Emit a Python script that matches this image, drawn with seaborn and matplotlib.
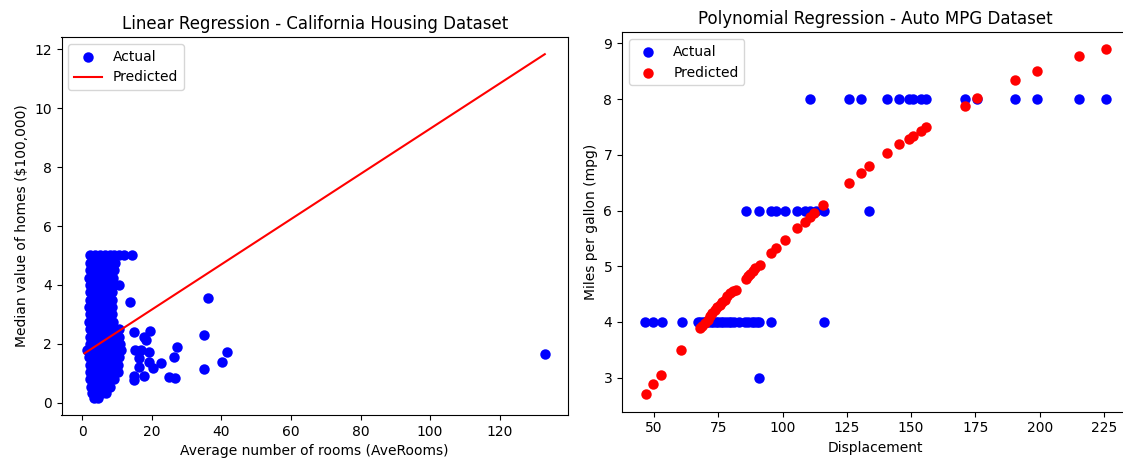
import matplotlib
matplotlib.use("Agg")
import matplotlib.pyplot as plt
import seaborn as sns
import pandas as pd

# ---------------- Left: California housing (AveRooms vs value) ----------------
# dense cluster, read row by row (value level -> room values)
blob_levels = [5.0, 4.75, 4.5, 4.25, 4.0, 3.75, 3.5, 3.25, 3.0, 2.75, 2.5,
               2.25, 2.0, 1.8, 1.55, 1.3, 1.05, 0.8, 0.55, 0.35, 0.17]
blob_rooms = [
    [2.2, 3.6, 5.0, 6.4, 7.8, 9.2, 10.6, 12.0, 14.3],
    [2.3, 3.7, 5.1, 6.5, 7.9, 9.3],
    [2.2, 3.6, 5.0, 6.4, 7.8, 9.0],
    [2.0, 3.4, 4.8, 6.2, 7.6, 8.8],
    [2.2, 3.6, 5.0, 6.4, 7.8, 9.2, 10.6],
    [2.1, 3.5, 4.9, 6.3, 7.7, 8.6],
    [2.3, 3.7, 5.1, 6.5, 7.9, 8.5],
    [2.0, 3.4, 4.8, 6.2, 7.6, 8.5],
    [2.1, 3.5, 4.9, 6.3, 7.7, 8.6],
    [1.8, 3.2, 4.6, 6.0, 7.4, 8.7],
    [2.2, 3.6, 5.0, 6.4, 7.8, 9.2, 10.4],
    [2.1, 3.5, 4.9, 6.3, 7.7, 9.1, 10.6],
    [2.2, 3.6, 5.0, 6.4, 7.8, 9.2, 10.8],
    [1.2, 2.6, 4.0, 5.4, 6.8, 8.2, 9.6, 11.0],
    [2.0, 3.4, 4.8, 6.2, 7.6, 9.0, 10.6],
    [2.1, 3.5, 4.9, 6.3, 7.7, 9.1, 10.3],
    [2.2, 3.6, 5.0, 6.4, 7.8, 9.2, 10.2],
    [2.3, 3.7, 5.1, 6.5, 7.9, 9.0],
    [2.5, 3.9, 5.3, 6.7, 7.8],
    [2.8, 4.2, 5.6, 6.8],
    [3.2, 4.6],
]
# scattered points away from the cluster
outlier_rooms = [36.2, 13.8, 14.9, 19.3, 18.4, 17.6, 34.9, 15.2, 16.9, 19.1,
                 27.2, 41.6, 26.4, 16.2, 19.1, 22.6, 20.2, 16.2, 40.1, 35.1,
                 14.9, 17.6, 14.9, 24.8, 26.7, 133.0]
outlier_value = [3.57, 3.41, 2.41, 2.44, 2.14, 2.25, 2.29, 1.80, 1.80, 1.72,
                 1.89, 1.74, 1.55, 1.52, 1.37, 1.35, 1.18, 1.23, 1.40, 1.14,
                 0.92, 0.92, 0.76, 0.89, 0.84, 1.66]
# regression line end points
line_rooms = [0.6, 133.0]
line_value = [1.68, 11.83]

# ---------------- Right: Auto MPG (Displacement) ----------------
disp_actual = [46.5, 49.5, 53, 61, 67, 68, 69, 70, 71, 72, 73, 74, 75, 76, 77,
               78, 79, 80, 81, 83, 85.5, 86.5, 88, 89, 90, 91, 95.5, 116,
               90.8,
               85.7, 91, 95.6, 97.6, 101, 105.6, 108.6, 110.5, 113, 116, 133.7,
               110.8, 125.7, 130.5, 140.5, 145.4, 149, 150.9, 153.8, 155.7,
               170.8, 175.8, 190.6, 199, 215.4, 225.8]
mpg_actual = [4] * 28 + [3] + [6] * 11 + [8] * 15

disp_pred = [46.9, 49.5, 52.7, 60.5, 67.8, 68.8, 69.8, 70.8, 71.7, 72.7, 73.7,
             74.6, 75.6, 76.5, 77.5, 78.5, 79.5, 80.6, 81.8, 85.7, 86.6, 87.5,
             88.4, 89.2, 91.1, 95.6, 97.6, 100.8, 105.6, 108.6, 110.5, 112.4,
             115.9, 125.7, 130.5, 133.7, 140.5, 145.4, 149, 150.9, 153.8, 155.7,
             170.8, 175.8, 190.6, 199, 215.5, 225.8]
mpg_pred = [2.70, 2.89, 3.05, 3.50, 3.89, 3.93, 3.98, 4.04, 4.10, 4.16, 4.22,
            4.27, 4.31, 4.35, 4.39, 4.46, 4.52, 4.55, 4.57, 4.78, 4.82, 4.87,
            4.92, 4.96, 5.02, 5.23, 5.32, 5.47, 5.68, 5.80, 5.89, 5.95,
            6.10, 6.49, 6.67, 6.79, 7.03, 7.19, 7.28, 7.34, 7.43, 7.49,
            7.88, 8.01, 8.34, 8.50, 8.77, 8.89]

# ---------------- build tables ----------------
rx, ry = [], []
for lvl, row in zip(blob_levels, blob_rooms):
    rx.extend(row)
    ry.extend([lvl] * len(row))
rx.extend(outlier_rooms)
ry.extend(outlier_value)
cal = pd.DataFrame({"rooms": rx, "value": ry})
cal_line = pd.DataFrame({"rooms": line_rooms, "value": line_value})
act = pd.DataFrame({"disp": disp_actual, "mpg": mpg_actual})
pred = pd.DataFrame({"disp": disp_pred, "mpg": mpg_pred})

W, H = 1123, 459
fig = plt.figure(figsize=(W / 100, H / 100), dpi=100)
ax1 = fig.add_axes([61.5 / W, (H - 415) / H, 506.3 / W, 378 / H])
ax2 = fig.add_axes([622 / W, (H - 411.7) / H, 507 / W, 379.5 / H])

pt = dict(s=36, edgecolor="face", linewidth=1.5)

sns.scatterplot(data=cal, x="rooms", y="value", ax=ax1, color="blue",
                label="Actual", **pt)
sns.lineplot(data=cal_line, x="rooms", y="value", ax=ax1, color="red",
             linewidth=1.5, label="Predicted", estimator=None, sort=False)
ax1.set_title("Linear Regression - California Housing Dataset", fontsize=12)
ax1.set_xlabel("Average number of rooms (AveRooms)")
ax1.set_ylabel("Median value of homes (\\$100,000)")
ax1.legend(loc="upper left")

sns.scatterplot(data=act, x="disp", y="mpg", ax=ax2, color="blue",
                label="Actual", **pt)
sns.scatterplot(data=pred, x="disp", y="mpg", ax=ax2, color="red",
                label="Predicted", **pt)
ax2.set_title("Polynomial Regression - Auto MPG Dataset", fontsize=12)
ax2.set_xlabel("Displacement")
ax2.set_ylabel("Miles per gallon (mpg)")
ax2.legend(loc="upper left")

fig.savefig("out.png", dpi=100)
